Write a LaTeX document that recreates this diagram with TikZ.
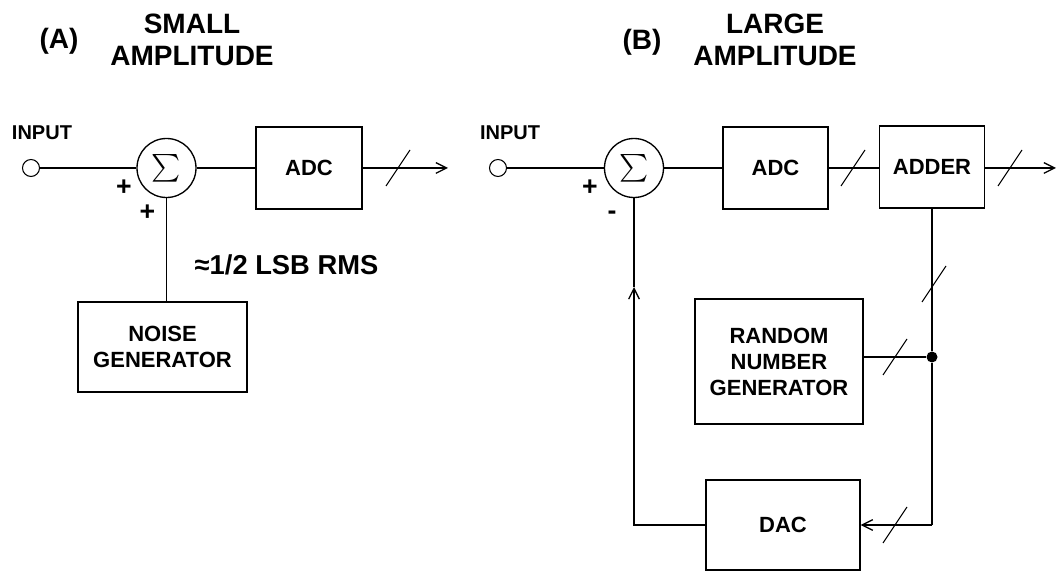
\documentclass[tikz,border=0pt]{standalone}
\usepackage{amsmath}
\usepackage{fontspec}
\setmainfont{Liberation Sans}
\usetikzlibrary{arrows.meta}
\begin{document}
\begin{tikzpicture}[x=0.75pt,y=-0.75pt,
  every node/.style={font=\bfseries},
  ln/.style={line width=1pt},
  arr/.style={ln,-{Straight Barb[length=8pt,width=8pt,line width=1pt]}},
  blk/.style={draw,line width=1pt,align=center,inner sep=0pt,
    font=\bfseries\fontsize{16.5}{19.5}\selectfont},
  sumc/.style={draw,circle,line width=1pt,inner sep=0pt,minimum size={2*29.5*0.75pt},
    font=\fontsize{21.5}{24}\selectfont},
  port/.style={draw,circle,line width=0.8pt,inner sep=0pt,minimum size={17*0.75pt}},
  ttl/.style={align=center,font=\bfseries\fontsize{21}{24}\selectfont},
  inlbl/.style={font=\bfseries\fontsize{15}{18}\selectfont},
  sgn/.style={font=\bfseries\fontsize{20}{24}\selectfont,inner sep=0pt},
  bus/.pic={\draw[line width=0.8pt] (-12,18) -- (12,-18);}
]
\useasboundingbox (0,0) rectangle (1058,573);

% ---------- Panel A ----------
\node[ttl] (tA) at (59,41) {(A)};
\node[ttl] (tAs) at (192,40) {SMALL\\AMPLITUDE};
\node[inlbl] (inAl) at (42,133) {INPUT};
\node[port] (inA) at (31,168) {};
\node[sumc] (sumA) at (166.5,168) {$\textstyle\sum$};
\node[blk,minimum width={106*0.75pt},minimum height={82*0.75pt}] (adcA) at (309,168) {ADC};
\coordinate (outA) at (448,168);
\node[sgn] (pA1) at (124,188) {+};
\node[sgn] (pA2) at (147.5,213) {+};
\node[blk,minimum width={169*0.75pt},minimum height={90*0.75pt}] (noise) at (162.5,347) {NOISE\\GENERATOR};
\node[font=\bfseries\fontsize{20.5}{24}\selectfont] (lsb) at (286.5,265) {≈1/2 LSB RMS};

\draw[ln] (inA) -- (sumA);
\draw[ln] (sumA) -- (adcA);
\draw[arr] (adcA) -- (outA);
\pic at (398,168) {bus};
\draw[ln] (sumA.south) -- (sumA.south |- noise.north);

% ---------- Panel B ----------
\node[ttl] (tB) at (642,42) {(B)};
\node[ttl] (tBs) at (775,40) {LARGE\\AMPLITUDE};
\node[inlbl] (inBl) at (510,133) {INPUT};
\node[port] (inB) at (498,168) {};
\node[sumc] (sumB) at (634,168) {$\textstyle\sum$};
\node[sgn] (pB1) at (590,188) {+};
\node[sgn] (mB) at (612,215) {-};
\node[blk,minimum width={105*0.75pt},minimum height={82*0.75pt}] (adcB) at (775.5,168) {ADC};
\node[blk,minimum width={105*0.75pt},minimum height={82*0.75pt}] (adder) at (932,167) {ADDER};
\coordinate (outB) at (1056,168);
\node[blk,minimum width={168*0.75pt},minimum height={125*0.75pt}] (rng) at (779,361.5) {RANDOM\\NUMBER\\GENERATOR};
\node[blk,minimum width={154*0.75pt},minimum height={90*0.75pt}] (dac) at (783,525) {DAC};
\node[circle,fill,inner sep=0pt,minimum size={11*0.75pt}] (dot) at (932,357) {};
\coordinate (cr) at (932,525);
\coordinate (fbc) at (634,525);
\coordinate (fbm) at (634,287);

\draw[ln] (inB) -- (sumB);
\draw[ln] (sumB) -- (adcB);
\draw[ln] (adcB) -- (adcB -| adder.west);
\pic at (853,168) {bus};
\draw[arr] (adder.east |- outB) -- (outB);
\pic at (1010,168) {bus};
\draw[ln] (adder.south) -- (dot) -- (cr);
\pic at (934,284) {bus};
\draw[ln] (rng.east |- dot) -- (dot);
\pic at (895,357) {bus};
\draw[arr] (cr) -- (dac.east |- cr);
\pic at (895,525) {bus};
\draw[arr] (dac.west) -- (fbc) -- (fbm);
\draw[ln] (fbm) -- (sumB.south);
\end{tikzpicture}
\end{document}
